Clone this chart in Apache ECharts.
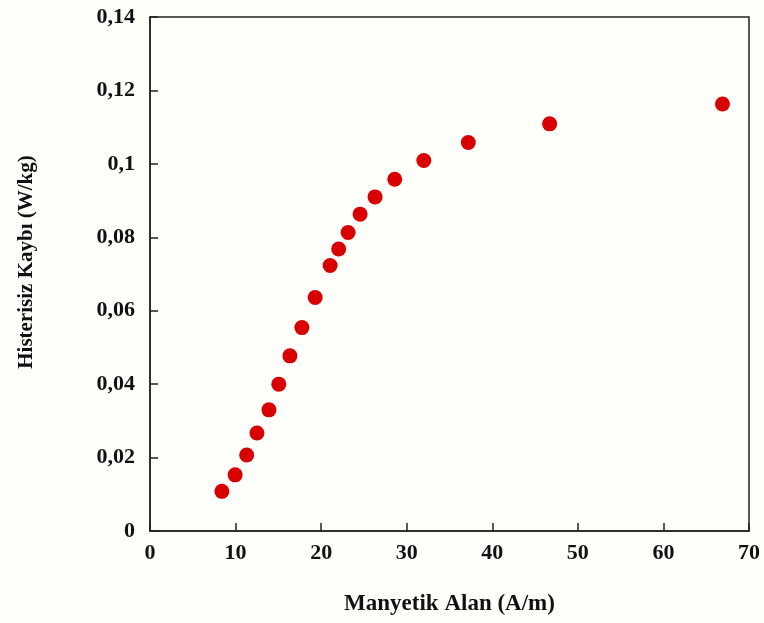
<!DOCTYPE html>
<html>
<head>
<meta charset="utf-8">
<script src="https://cdn.jsdelivr.net/npm/echarts@6/dist/echarts.min.js"></script>
<style>
  html, body { margin: 0; padding: 0; background: #fefefb; }
  #chart { width: 764px; height: 623px; }
</style>
</head>
<body>
<div id="chart"></div>
<script>
// Manyetik alan (A/m) vs histerisiz kaybı (W/kg)
const fieldValues = [8.4, 9.95, 11.3, 12.5, 13.9, 15.05, 16.35, 17.75, 19.3, 21.05, 22.05, 23.15, 24.55, 26.3, 28.6, 32.0, 37.2, 46.7, 66.9];
const lossValues = [0.0108, 0.0153, 0.0207, 0.0267, 0.0330, 0.0400, 0.0477, 0.0554, 0.0636, 0.0723, 0.0768, 0.0813, 0.0863, 0.0910, 0.0958, 0.1009, 0.1058, 0.1109, 0.1163];

const xTicks = { min: 0, max: 70, interval: 10 };
const yTicks = { min: 0, max: 0.14, interval: 0.02 };

const points = fieldValues.map((x, i) => [x, lossValues[i]]);

const fontFamily = '"Liberation Serif", "Times New Roman", serif';
const chart = echarts.init(document.getElementById('chart'));

chart.setOption({
  backgroundColor: '#fefefb',
  animation: false,
  grid: { left: 150, top: 17, right: 15, bottom: 92, show: true, borderColor: '#222', borderWidth: 1.5 },
  xAxis: {
    type: 'value',
    min: xTicks.min,
    max: xTicks.max,
    interval: xTicks.interval,
    name: 'Manyetik Alan (A/m)',
    nameLocation: 'middle',
    nameGap: 62,
    nameTextStyle: { fontFamily, fontWeight: 'bold', fontSize: 23, color: '#111' },
    axisLine: { lineStyle: { color: '#222', width: 1.5 } },
    axisTick: { inside: true, length: 8, lineStyle: { color: '#222', width: 1.5 } },
    axisLabel: { fontFamily, fontWeight: 'bold', fontSize: 22, color: '#111', margin: 11 },
    splitLine: { show: false }
  },
  yAxis: {
    type: 'value',
    min: yTicks.min,
    max: yTicks.max,
    interval: yTicks.interval,
    name: 'Histerisiz Kaybı (W/kg)',
    nameLocation: 'middle',
    nameGap: 113,
    nameTextStyle: { fontFamily, fontWeight: 'bold', fontSize: 21, color: '#111', padding: [0, 0, 0, 24] },
    axisLine: { lineStyle: { color: '#222', width: 1.5 } },
    axisTick: { inside: true, length: 8, lineStyle: { color: '#222', width: 1.5 } },
    axisLabel: {
      fontFamily, fontWeight: 'bold', fontSize: 22, color: '#111', margin: 15,
      formatter: v => String(Math.round(v * 100) / 100).replace('.', ',')
    },
    splitLine: { show: false }
  },
  series: [{
    type: 'scatter',
    data: points,
    symbol: 'circle',
    symbolSize: 15,
    itemStyle: { color: '#d80000', opacity: 1 }
  }]
});
</script>
</body>
</html>
